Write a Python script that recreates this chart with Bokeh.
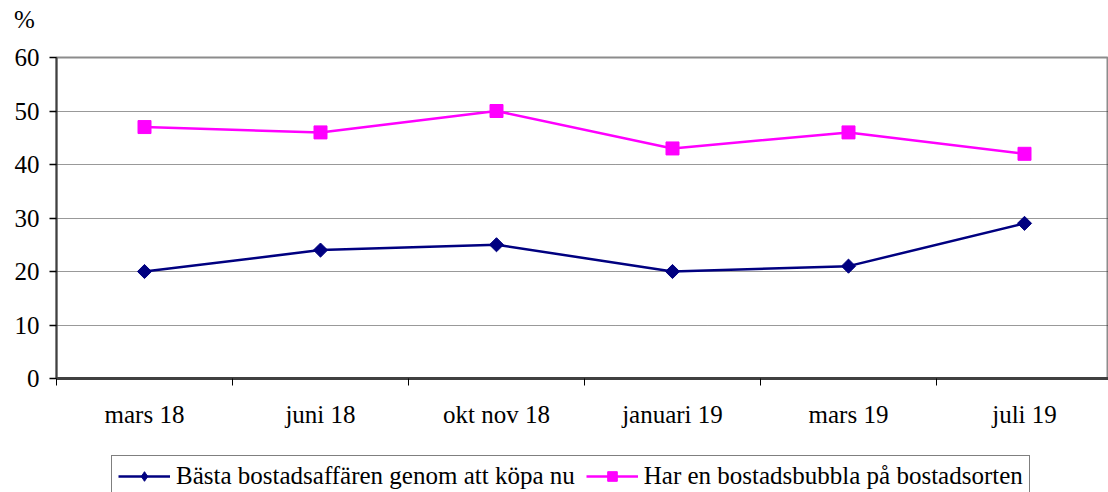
from bokeh.plotting import figure
from bokeh.layouts import column
from bokeh.models import Range1d, FixedTicker, Legend, LegendItem, Div
from bokeh.embed import file_html
from bokeh.resources import INLINE
import math

categories = ["mars 18", "juni 18", "okt nov 18", "januari 19", "mars 19", "juli 19"]
basta = [20, 24, 25, 20, 21, 29]
bubbla = [47, 46, 50, 43, 46, 42]
series_names = ["Bästa bostadsaffären genom att köpa nu", "Har en bostadsbubbla på bostadsorten"]
y_ticks = [0, 10, 20, 30, 40, 50, 60]
y_unit = "%"

FONT = "Liberation Serif"
FS = "25px"
W = 1108
NAVY = "#000080"
MAG = "#FF00FF"

# top strip with the unit label
t = Div(text=y_unit, width=W, height=40,
        styles={"font-family": FONT, "font-size": FS, "line-height": "40px",
                "padding-left": "14px", "color": "black", "box-sizing": "border-box",
                "margin": "0"})

p = figure(width=W, height=400, output_backend="svg", toolbar_location=None,
           x_range=Range1d(-0.5, -0.5 + 1052 / 176), y_range=Range1d(0, 60),
           min_border_left=56, min_border_right=0, min_border_top=17, min_border_bottom=62)
p.background_fill_color = "white"
p.border_fill_color = "white"
p.outline_line_color = "#8c8c8c"
p.outline_line_width = 2

xs = list(range(len(categories)))

# x axis
xa = p.xaxis[0]
xa.ticker = FixedTicker(ticks=xs, minor_ticks=[i - 0.5 for i in range(len(categories) + 1)])
xa.major_label_overrides = {i: c for i, c in enumerate(categories)}
xa.major_tick_out = 0
xa.major_tick_in = 0
xa.minor_tick_out = 7
xa.minor_tick_in = 0
xa.minor_tick_line_color = "black"
xa.minor_tick_line_width = 1
xa.axis_line_color = "#404040"
xa.axis_line_width = 3
xa.major_label_standoff = 15
xa.major_label_text_font = FONT
xa.major_label_text_font_size = FS
xa.major_label_text_color = "black"

# y axis
ya = p.yaxis[0]
ya.ticker = FixedTicker(ticks=y_ticks)
ya.minor_tick_line_color = None
ya.major_tick_out = 7
ya.major_tick_in = 0
ya.major_tick_line_color = "black"
ya.major_tick_line_width = 1.5
ya.axis_line_color = "#404040"
ya.axis_line_width = 2
ya.major_label_standoff = 10
ya.major_label_text_font = FONT
ya.major_label_text_font_size = FS
ya.major_label_text_color = "black"

p.xgrid.grid_line_color = None
p.ygrid.ticker = FixedTicker(ticks=y_ticks[1:-1])
p.ygrid.grid_line_color = "#333333"
p.ygrid.grid_line_dash = "1 1"
p.ygrid.grid_line_width = 1

p.line(xs, basta, line_color=NAVY, line_width=2.5)
p.scatter(xs, basta, marker="square", angle=math.pi / 4, size=10,
          fill_color=NAVY, line_color=NAVY)
p.line(xs, bubbla, line_color=MAG, line_width=2.5)
p.scatter(xs, bubbla, marker="square", size=13, fill_color=MAG, line_color=MAG)

# legend strip (series drawn off-range, only their legend glyphs show)
q = figure(width=W, height=52, output_backend="svg", toolbar_location=None,
           x_range=Range1d(100, 101), y_range=Range1d(100, 101),
           x_axis_location=None, y_axis_location=None,
           min_border_left=0, min_border_right=0, min_border_top=0, min_border_bottom=0)
q.grid.grid_line_color = None
q.outline_line_color = None
q.border_fill_color = "white"

g1 = q.line(xs, basta, line_color=NAVY, line_width=2.5)
s1 = q.scatter(xs, basta, marker="diamond", size=16, fill_color=NAVY, line_color=NAVY)
g2 = q.line(xs, bubbla, line_color=MAG, line_width=2.5)
s2 = q.scatter(xs, bubbla, marker="square", size=13, fill_color=MAG, line_color=MAG)

legend = Legend(items=[LegendItem(label=series_names[0], renderers=[g1, s1]),
                       LegendItem(label=series_names[1], renderers=[g2, s2])],
                orientation="horizontal", location=(55, -5))
legend.label_text_font = FONT
legend.label_text_font_size = FS
legend.label_text_color = "black"
legend.glyph_width = 52
legend.glyph_height = 24
legend.label_standoff = 6
legend.spacing = 11
legend.padding = 6
legend.margin = 0
legend.border_line_color = "black"
legend.border_line_width = 1
legend.background_fill_alpha = 1
q.add_layout(legend, "center")

layout = column(t, p, q, spacing=0)
open("out.html", "w").write(file_html(layout, INLINE))
